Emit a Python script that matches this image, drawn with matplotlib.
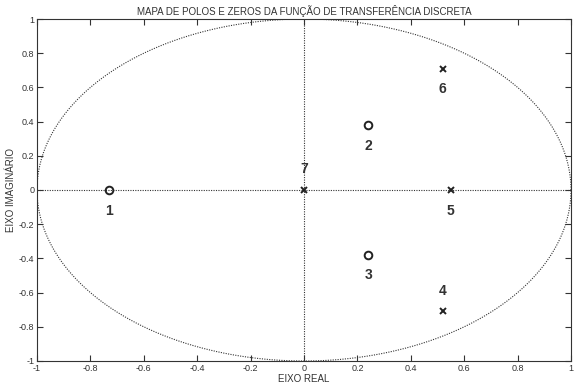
import numpy as np
import matplotlib
matplotlib.use("Agg")
import matplotlib.pyplot as plt

plt.rcParams['font.family'] = ['Liberation Sans', 'DejaVu Sans']

# Data
zeros_re = [-0.73, 0.24, 0.24]
zeros_im = [0.0, 0.38, -0.38]
zero_labels = ["1", "2", "3"]
zero_label_dy = [-0.12, -0.12, -0.12]

poles_re = [0.52, 0.55, 0.52, 0.0]
poles_im = [-0.71, 0.0, 0.71, 0.0]
pole_labels = ["4", "5", "6", "7"]
pole_label_dy = [0.12, -0.12, -0.12, 0.12]

xticks = [-1, -0.8, -0.6, -0.4, -0.2, 0, 0.2, 0.4, 0.6, 0.8, 1]
yticks = [-1, -0.8, -0.6, -0.4, -0.2, 0, 0.2, 0.4, 0.6, 0.8, 1]

fig = plt.figure(figsize=(5.79, 3.87), dpi=100)
ax = fig.add_axes([0.0639, 0.0672, 0.9223, 0.8837])

# unit circle
t = np.linspace(0, 2 * np.pi, 400)
ax.plot(np.cos(t), np.sin(t), linestyle=(0, (1, 1.2)), color='#333333', lw=0.8)
ax.axhline(0, linestyle=(0, (1, 1.2)), color='#333333', lw=0.8)
ax.axvline(0, linestyle=(0, (1, 1.2)), color='#333333', lw=0.8)

ax.plot(zeros_re, zeros_im, linestyle='none', marker='o', markersize=5.5,
        markerfacecolor='none', markeredgecolor='#222222', markeredgewidth=1.4)
ax.plot(poles_re, poles_im, linestyle='none', marker='x', markersize=4.5,
        color='#222222', markeredgewidth=1.4)

for x, y, lab, dy in zip(zeros_re, zeros_im, zero_labels, zero_label_dy):
    ax.text(x, y + dy, lab, ha='center', va='center', fontsize=10,
            fontweight='bold', color='#333333')
for x, y, lab, dy in zip(poles_re, poles_im, pole_labels, pole_label_dy):
    ax.text(x, y + dy, lab, ha='center', va='center', fontsize=10,
            fontweight='bold', color='#333333')

ax.set_xlim(-1, 1)
ax.set_ylim(-1, 1)
ax.set_xticks(xticks)
ax.set_yticks(yticks)
ax.set_xticklabels([f"{v:g}" for v in xticks])
ax.set_yticklabels([f"{v:g}" for v in yticks])
ax.tick_params(direction='in', top=True, right=True, labelsize=6.5,
               colors='#333333', length=4, width=0.8, pad=2)
for s in ax.spines.values():
    s.set_color('#333333')
    s.set_linewidth(0.8)

ax.set_title("MAPA DE POLOS E ZEROS DA FUNÇÃO DE TRANSFERÊNCIA DISCRETA",
             fontsize=7, color='#333333', pad=3)
ax.set_xlabel("EIXO REAL", fontsize=7, color='#333333', labelpad=1)
ax.set_ylabel("EIXO IMAGINÁRIO", fontsize=7, color='#333333', labelpad=2)

fig.savefig("out.png", dpi=100)
